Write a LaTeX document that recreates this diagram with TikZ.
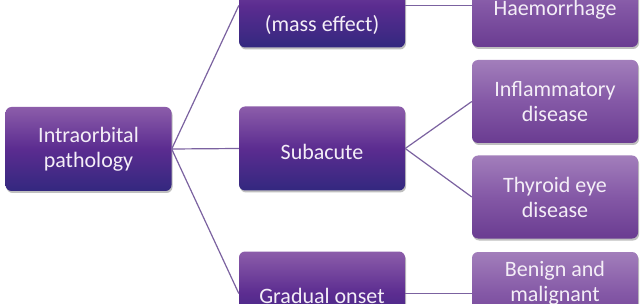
\documentclass[tikz,border=0pt]{standalone}
\usepackage{fontspec}
\setmainfont{Carlito}
\usetikzlibrary{positioning,shadows}

\definecolor{darkTop}{HTML}{8C5DAA}
\definecolor{darkMid}{HTML}{5B2C90}
\definecolor{darkBot}{HTML}{33287F}
\definecolor{lightTop}{HTML}{A27EBB}
\definecolor{lightMid}{HTML}{8458A6}
\definecolor{lightBot}{HTML}{6A3C91}
\definecolor{linkCol}{HTML}{7B62A0}
\definecolor{boxText}{HTML}{F4EEF7}

\begin{document}
\begin{tikzpicture}[x=1pt, y=-1pt,
  every node/.style={font=\fontsize{22}{25}\selectfont, text=boxText, align=center},
  darkbox/.style={rounded corners=6pt, minimum width=166pt, minimum height=84pt,
    top color=darkTop, bottom color=darkBot, middle color=darkMid,
    drop shadow={shadow xshift=1pt, shadow yshift=-2pt, opacity=0.25, fill=black}},
  lightbox/.style={rounded corners=6pt, minimum width=166pt, minimum height=83pt,
    top color=lightTop, bottom color=lightBot, middle color=lightMid,
    drop shadow={shadow xshift=1pt, shadow yshift=-2pt, opacity=0.25, fill=black}},
  link/.style={draw=linkCol, line width=1.2pt}]
\clip (0,0) rectangle (644,304);
\fill[white] (0,0) rectangle (644,304);
\node[darkbox] (root) at (88.5,149) {Intraorbital\\pathology};
\node[darkbox] (acute) at (322,5.5) {};
\node (acuteTxt) at (322,25) {(mass effect)};
\node[darkbox] (subacute) at (322,148.5) {};
\node (subacuteTxt) at (322,151.5) {Subacute};
\node[darkbox] (gradual) at (322,293.5) {};
\node (gradualTxt) at (322,296) {Gradual onset};
\node[lightbox] (haem) at (555,5.5) {};
\node (haemTxt) at (555,10) {Haemorrhage};
\node[lightbox] (inflam) at (555,101.5) {Inflammatory\\disease};
\node[lightbox] (thyroid) at (555,197) {Thyroid eye\\disease};
\node[lightbox] (benign) at (555,293.5) {};
\node (benignTxt) at (555,283.5) {Benign and\\malignant};
\draw[link] (root.east) -- (acute.west);
\draw[link] (root.east) -- (subacute.west);
\draw[link] (root.east) -- (gradual.west);
\draw[link] (acute.east) -- (haem.west);
\draw[link] (subacute.east) -- (inflam.west);
\draw[link] (subacute.east) -- (thyroid.west);
\draw[link] (gradual.east) -- (benign.west);
\end{tikzpicture}
\end{document}
